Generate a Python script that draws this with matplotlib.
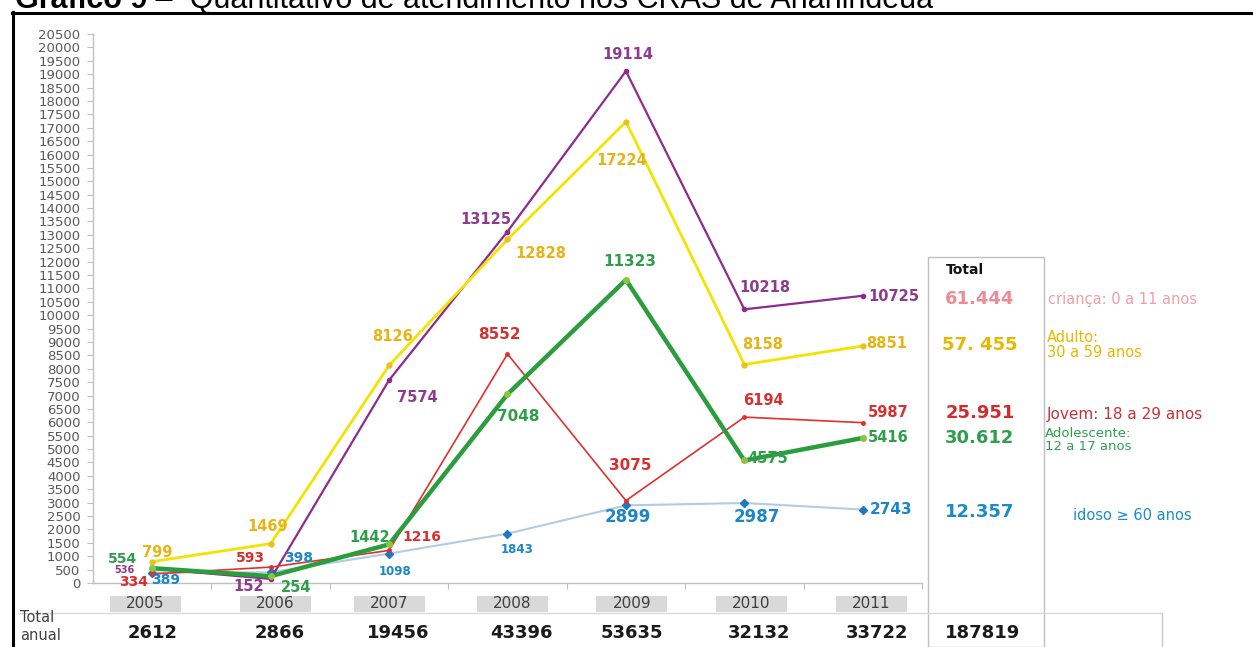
import matplotlib
matplotlib.use("Agg")
import matplotlib.pyplot as plt
from matplotlib.lines import Line2D
from matplotlib.patches import Rectangle

# ---------------- data ----------------
years = ["2005", "2006", "2007", "2008", "2009", "2010", "2011"]
crianca = [536, 152, 7574, 13125, 19114, 10218, 10725]
adulto = [799, 1469, 8126, 12828, 17224, 8158, 8851]
jovem = [334, 593, 1216, 8552, 3075, 6194, 5987]
adolescente = [554, 254, 1442, 7048, 11323, 4575, 5416]
idoso = [389, 398, 1098, 1843, 2899, 2987, 2743]
total_anual = ["2612", "2866", "19456", "43396", "53635", "32132", "33722"]
total_geral = "187819"
totais_serie = ["61.444", "57. 455", "25.951", "30.612", "12.357"]
legend_labels = ["criança: 0 a 11 anos", "Adulto:\n30 a 59 anos", "Jovem: 18 a 29 anos",
                 "Adolescente:\n12 a 17 anos", "idoso \u2265 60 anos"]
title_bold = "Gráfico 9"
title_rest = " \u2013  Quantitativo de atendimento nos CRAS de Ananindeua"

W, H = 1253, 647
fig = plt.figure(figsize=(W / 100, H / 100), dpi=100)
fig.patch.set_facecolor("white")

def fx(x):
    return x / W

def fy(y):
    return 1 - y / H

# axes: x from 93 to 922 px, y from 583 (0) to 34 (20500)
ax = fig.add_axes([fx(93), fy(583), (922 - 93) / W, (583 - 34) / H])
ax.set_xlim(-0.5, 6.5)
ax.set_ylim(0, 20500)
for s in ["top", "right"]:
    ax.spines[s].set_visible(False)
for s in ["left", "bottom"]:
    ax.spines[s].set_color("#BFBFBF")
    ax.spines[s].set_linewidth(1.0)
ax.set_yticks(range(0, 20501, 500))
ax.set_yticklabels([str(v) for v in range(0, 20501, 500)])
ax.tick_params(axis="y", length=4, color="#BFBFBF", labelsize=9.5, labelcolor="#595959",
               pad=5)
for t in ax.get_yticklabels():
    t.set_family("DejaVu Sans")
ax.set_xticks([i + 0.5 for i in range(7)])
ax.set_xticklabels([])
ax.tick_params(axis="x", length=4, color="#BFBFBF", direction="out")

x = list(range(len(years)))

# series
c_pur = "#8E2B8E"
c_yel = "#F2E400"
c_grn = "#2A9D3C"
c_red = "#E0302E"
c_blu_line = "#B3CBE3"
c_blu = "#1E78C2"

ax.plot(x, crianca, color=c_pur, lw=1.6, marker="o", ms=3, zorder=3)
ax.plot(x, adulto, color=c_yel, lw=2.0, marker="o", ms=3.5, mfc="#E8C020", mec="#E8C020", zorder=3)
ax.plot(x, jovem, color=c_red, lw=1.2, marker="o", ms=2.5, zorder=4)
ax.plot(x, adolescente, color=c_grn, lw=3.2, marker="o", ms=4, mfc="#8CC63F", mec="#8CC63F", zorder=5)
ax.plot(x, idoso, color=c_blu_line, lw=1.5, marker="D", ms=4.5, mfc=c_blu, mec=c_blu, zorder=2)

# data label offsets (pixels: dx right, dy down) and sizes
lab_cfg = [
    (crianca, "#8E3A8E",
     [(-28, 1), (-22, 8), (28, 17), (-22, -12), (2, -17), (21, -22), (31, 1)],
     [7, 10.5, 10.5, 10.5, 10.5, 10.5, 10.5]),
    (adulto, "#E8B414",
     [(5, -9), (-3, -17), (3, -29), (33, 14), (-4, 39), (18, -20), (24, -2)],
     [10.5, 10.5, 10.5, 10.5, 10.5, 10.5, 10.5]),
    (jovem, "#D8302E",
     [(-19, 8), (-20, -9), (33, -13), (-8, -19), (4, -35), (19, -17), (25, -10)],
     [10, 10, 10, 11, 11, 10.5, 10.5]),
    (adolescente, "#2E9E4A",
     [(-30, -9), (25, 11), (-19, -7), (11, 22), (4, -18), (23, -2), (25, 0)],
     [10, 10.5, 10.5, 11, 11, 10.5, 10.5]),
    (idoso, "#1C86C8",
     [(13, 7), (28, -14), (6, 18), (10, 16), (2, 12), (12, 14), (28, 0)],
     [10, 10, 8.5, 8.5, 12, 12, 11]),
]
for vals, col, offs, sizes in lab_cfg:
    for i, v in enumerate(vals):
        dx, dy = offs[i]
        ax.annotate(str(v), (i, v), xytext=(dx * 0.72, -dy * 0.72), textcoords="offset points",
                    ha="center", va="center", color=col, fontsize=sizes[i],
                    fontweight="bold", family="DejaVu Sans", zorder=6,
                    annotation_clip=False)

# year boxes
trans = ax.get_xaxis_transform()
box_shift = [-0.06, 0.04, 0.0, 0.04, 0.05, 0.06, 0.07]
for i, yr in enumerate(years):
    xc = i + box_shift[i]
    ax.add_patch(Rectangle((xc - 0.3, (583 - 612) / 549), 0.6, 16 / 549, transform=trans,
                           facecolor="#D9D9D9", edgecolor="none", clip_on=False))
    ax.text(xc, (583 - 604) / 549, yr, transform=trans, ha="center", va="center",
            fontsize=11, color="#404040", family="DejaVu Sans")

# bottom row totals
tot_shift = [0, 0.08, 0.08, 0.12, 0.05, 0.12, 0.12]
for i, t in enumerate(total_anual):
    ax.text(i + tot_shift[i], (583 - 633) / 549, t, transform=trans, ha="center", va="center",
            fontsize=13, fontweight="bold", color="#1A1A1A", family="DejaVu Sans")
fig.text(fx(983), fy(633), total_geral, ha="center", va="center", fontsize=13,
         fontweight="bold", color="#1A1A1A", family="DejaVu Sans")
fig.text(fx(20), fy(618), "Total", ha="left", va="center", fontsize=10.5, color="#404040",
         family="DejaVu Sans")
fig.text(fx(20), fy(636), "anual", ha="left", va="center", fontsize=10.5, color="#404040",
         family="DejaVu Sans")

# table lines
fig.add_artist(Line2D([fx(18), fx(1162)], [fy(612.5), fy(612.5)], color="#D9D9D9", lw=1))
fig.add_artist(Line2D([fx(1162), fx(1162)], [fy(612.5), fy(647)], color="#C8C8C8", lw=1))

# total box
fig.add_artist(Rectangle((fx(928), fy(647)), (1044 - 928) / W, (647 - 257) / H,
                         transform=fig.transFigure, facecolor="none", edgecolor="#BFBFBF", lw=1))
fig.text(fx(965), fy(270), "Total", ha="center", va="center", fontsize=10, fontweight="bold",
         color="#111111", family="DejaVu Sans")

tot_cols = ["#EC8C98", "#E8B800", "#D42A2A", "#2E9E4E", "#1A8CC8"]
tot_y = [299, 345, 413, 438, 512]
for t, c, yy in zip(totais_serie, tot_cols, tot_y):
    fig.text(fx(980), fy(yy), t, ha="center", va="center", fontsize=13, fontweight="bold",
             color=c, family="DejaVu Sans")

leg_cols = ["#EBA0A8", "#E8B800", "#C8303A", "#2E9E4E", "#1A8CC8"]
leg_pos = [(1048, 299), (1047, 345), (1047, 414), (1045, 440), (1073, 515)]
leg_size = [10.5, 10.5, 11, 9.5, 10.5]
for t, c, (px, py), s in zip(legend_labels, leg_cols, leg_pos, leg_size):
    fig.text(fx(px), fy(py), t, ha="left", va="center", fontsize=s, color=c,
             family="DejaVu Sans", linespacing=0.95)

# frame lines
fig.add_artist(Line2D([fx(12), fx(1253)], [fy(12.5), fy(12.5)], color="black", lw=2.2))
fig.add_artist(Line2D([fx(13), fx(13)], [fy(11.5), fy(647)], color="black", lw=2.2))

# title (cut off at the top, like the reference)
tb = fig.text(fx(15), fy(8), title_bold, ha="left", va="baseline", fontsize=22,
              fontweight="bold", family="Liberation Sans", color="black")
fig.canvas.draw()
bb = tb.get_window_extent()
fig.text(bb.x1 / W, fy(8), title_rest, ha="left", va="baseline", fontsize=22,
         family="Liberation Sans", color="black")

fig.savefig("out.png", dpi=100)
